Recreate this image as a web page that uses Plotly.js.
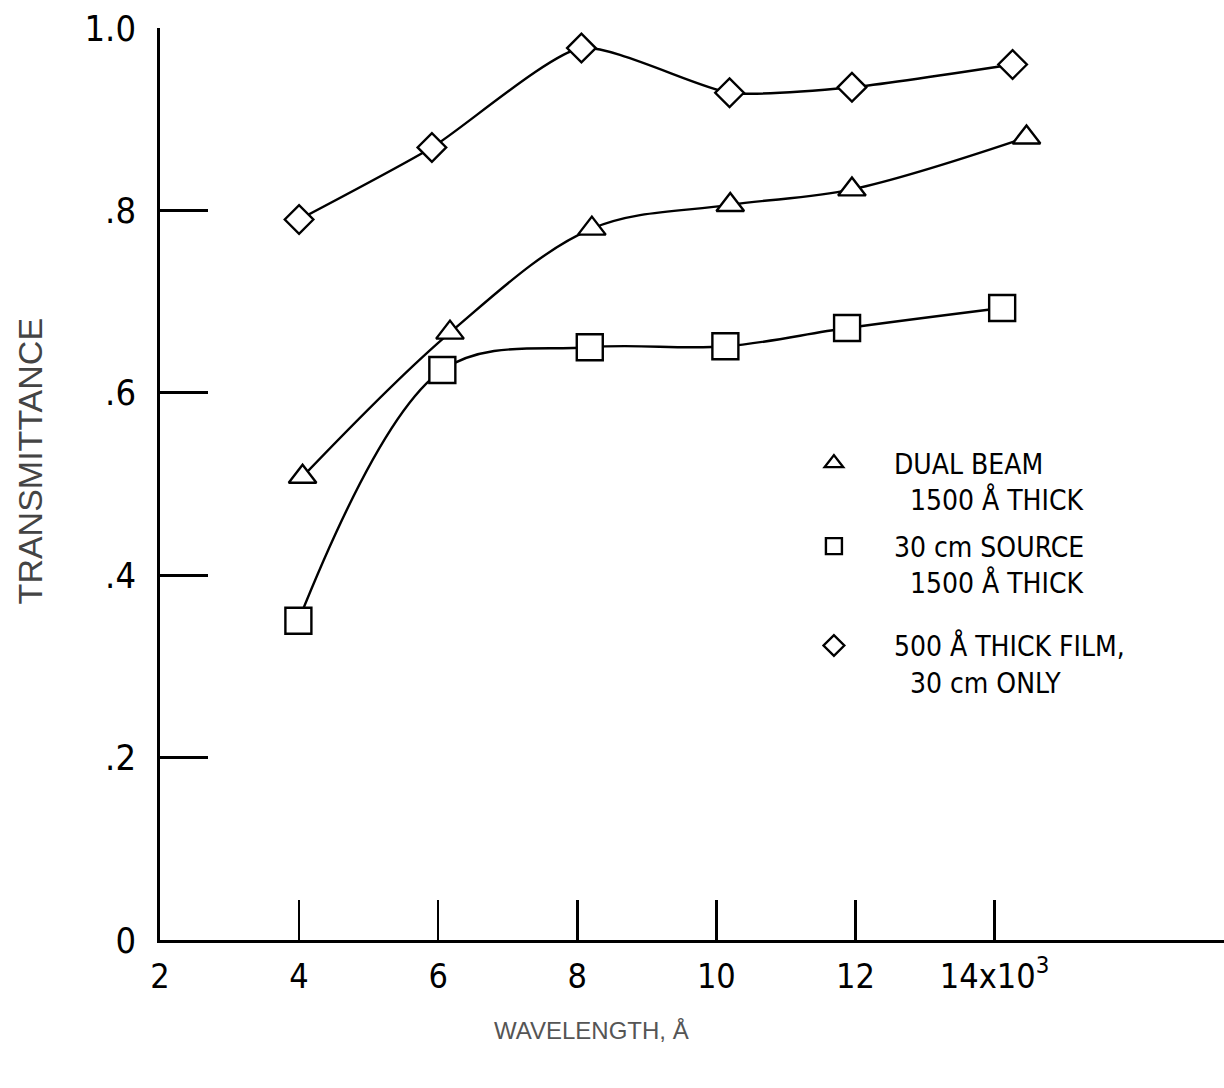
<!DOCTYPE html>
<html>
<head>
<meta charset="utf-8">
<script src="https://cdn.plot.ly/plotly-3.0.1.min.js"></script>
<style>html,body{margin:0;padding:0;background:#fff;}</style>
</head>
<body>
<div id="chart" style="width:1224px;height:1088px;"></div>
<script>
// Data (wavelength in units of 10^3 Å)
const triX = [4.05, 6.17, 8.21, 10.2, 11.95, 14.46];
const triY = [0.508, 0.666, 0.780, 0.806, 0.823, 0.880];
const sqX  = [3.99, 6.06, 8.18, 10.13, 11.88, 14.11];
const sqY  = [0.350, 0.625, 0.650, 0.651, 0.671, 0.693];
const diaX = [4.0, 5.91, 8.06, 10.19, 11.95, 14.26];
const diaY = [0.790, 0.869, 0.978, 0.929, 0.935, 0.960];

const triName = "DUAL BEAM<br>\u00A0\u00A01500 Å THICK";
const sqName  = "30 cm SOURCE<br>\u00A0\u00A01500 Å THICK";
const diaName = "500 Å THICK FILM,<br>\u00A0\u00A030 cm ONLY";

const xTickVals = [2, 4, 6, 8, 10, 12, 14];
const xTickText = ["2", "4", "6", "8", "10", "12", "14x10<sup>3</sup>"];
const yTickVals = [0, 0.2, 0.4, 0.6, 0.8, 1.0];
const yTickText = ["0", ".2", ".4", ".6", ".8", "1.0"];

const xTitle = "WAVELENGTH, Å";
const yTitle = "TRANSMITTANCE";

const NARROW = "'Liberation Sans Narrow', 'DejaVu Sans Condensed', 'Liberation Sans', sans-serif";
const SANS = "'Liberation Sans', Arial, sans-serif";

function lineTrace(x, y, sm) {
  return {x: x, y: y, type: "scatter", mode: "lines", showlegend: false,
          line: {color: "black", width: 2.4, shape: "spline", smoothing: sm}, hoverinfo: "skip"};
}
function markTrace(x, y, sym, size, name, leg) {
  return {x: x, y: y, type: "scatter", mode: "markers", name: name, legend: leg,
          cliponaxis: false,
          marker: {symbol: sym, size: size, color: "white", line: {color: "black", width: 2.4}}};
}

const data = [
  lineTrace(triX, triY, 1.0), lineTrace(sqX, sqY, 1.0), lineTrace(diaX, diaY, 0.6),
  markTrace(triX, triY, "triangle-up", 24, triName, "legend"),
  markTrace(sqX, sqY, "square", 26, sqName, "legend2"),
  markTrace(diaX, diaY, "diamond", 22, diaName, "legend3")
];

function legendAt(y) {
  return {x: 0.577, y: y, xanchor: "left", yanchor: "top",
          font: {family: NARROW, size: 28, color: "black"},
          valign: "top", itemwidth: 110, bgcolor: "rgba(0,0,0,0)"};
}

const layout = {
  width: 1224, height: 1088,
  margin: {l: 160, r: 0, t: 28, b: 148},
  paper_bgcolor: "white", plot_bgcolor: "white",
  showlegend: true,
  legend: legendAt(0.55),
  legend2: legendAt(0.459),
  legend3: legendAt(0.35),
  xaxis: {
    range: [2, 17.3], showgrid: false, zeroline: false,
    showline: true, linecolor: "black", linewidth: 2.8,
    ticks: "inside", ticklen: 40, tickwidth: 2.6, tickcolor: "black",
    tickvals: xTickVals, ticktext: xTickText, ticklabelstandoff: 4,
    tickfont: {family: NARROW, size: 34, color: "black"}
  },
  yaxis: {
    range: [0, 1.0], showgrid: false, zeroline: false,
    showline: true, linecolor: "black", linewidth: 2.8,
    ticks: "inside", ticklen: 48, tickwidth: 2.6, tickcolor: "black",
    tickvals: yTickVals, ticktext: yTickText, ticklabelstandoff: 14,
    tickfont: {family: NARROW, size: 36, color: "black"}
  },
  annotations: [
    {text: xTitle, xref: "paper", yref: "paper", x: 0.406, y: -0.0987,
     xanchor: "center", yanchor: "middle", showarrow: false,
     font: {family: SANS, size: 24, color: "#555"}},
    {text: yTitle, xref: "paper", yref: "paper", x: -0.122, y: 0.525,
     xanchor: "center", yanchor: "middle", showarrow: false, textangle: -90,
     font: {family: SANS, size: 34, color: "#444"}}
  ]
};

Plotly.newPlot("chart", data, layout, {displayModeBar: false, staticPlot: true});
</script>
</body>
</html>
